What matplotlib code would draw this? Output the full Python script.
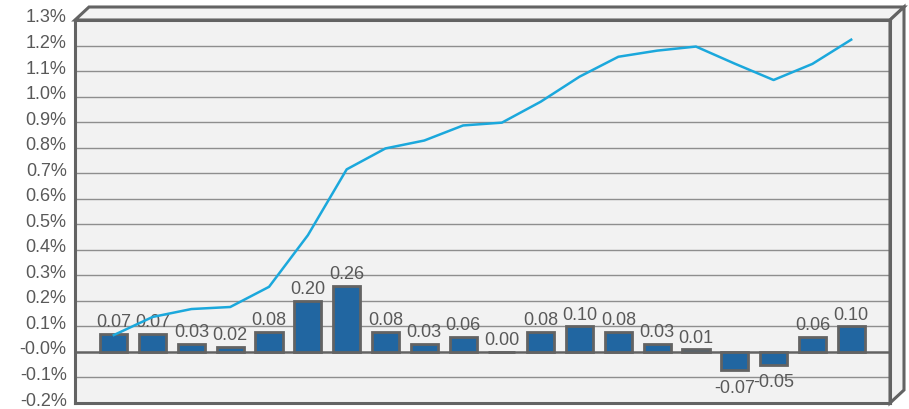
import matplotlib.pyplot as plt
import matplotlib.transforms as mtransforms
from matplotlib.patches import Polygon
import numpy as np

plt.rcParams['font.family'] = ['Liberation Sans', 'DejaVu Sans']

# monthly values (bars) and running total (line), in percent
bar_values = [0.07, 0.07, 0.03, 0.02, 0.08, 0.20, 0.26, 0.08, 0.03, 0.06,
              0.00, 0.08, 0.10, 0.08, 0.03, 0.01, -0.07, -0.05, 0.06, 0.10]
bar_labels = ["0.07", "0.07", "0.03", "0.02", "0.08", "0.20", "0.26", "0.08", "0.03", "0.06",
              "0.00", "0.08", "0.10", "0.08", "0.03", "0.01", "-0.07", "-0.05", "0.06", "0.10"]
line_values = [0.066, 0.137, 0.168, 0.176, 0.255, 0.457, 0.715, 0.797, 0.828, 0.887,
               0.898, 0.98, 1.078, 1.156, 1.18, 1.196, 1.129, 1.065, 1.128, 1.223]
y_ticks = [-0.2, -0.1, 0.0, 0.1, 0.2, 0.3, 0.4, 0.5, 0.6, 0.7, 0.8, 0.9, 1.0, 1.1, 1.2, 1.3]
y_ticklabels = ["-0.2%", "-0.1%", "-0.0%", "0.1%", "0.2%", "0.3%", "0.4%", "0.5%", "0.6%",
                "0.7%", "0.8%", "0.9%", "1.0%", "1.1%", "1.2%", "1.3%"]

W, H = 909, 409
fig = plt.figure(figsize=(W / 100, H / 100), dpi=100)
ax = fig.add_axes([75 / W, 6 / H, 815 / W, 383 / H])
ax.set_facecolor("#f2f2f2")

x = np.arange(len(bar_values))
edge = "#636363"
text_gray = "#595959"

for yt in y_ticks:
    if yt == 0:
        continue
    ax.axhline(yt, color="#8e8e8e", lw=1.0, zorder=1)
ax.axhline(0, color=edge, lw=1.8, zorder=2)

ax.bar(x, bar_values, width=0.7, color="#2166a1", edgecolor=edge, linewidth=2, zorder=3)
ax.plot(x, line_values, color="#1ba8dc", lw=1.8, zorder=5)

for xi, v, lab in zip(x, bar_values, bar_labels):
    if v >= 0:
        ax.annotate(lab, (xi, v), xytext=(0, 2), textcoords="offset points",
                    ha="center", va="bottom", fontsize=13, color=text_gray, zorder=4)
    else:
        ax.annotate(lab, (xi, v), xytext=(0, -7), textcoords="offset points",
                    ha="center", va="top", fontsize=13, color=text_gray, zorder=4)

ax.set_xlim(-1, 20)
ax.set_ylim(-0.2, 1.3)
ax.set_xticks([])
ax.set_yticks(y_ticks)
ax.set_yticklabels(y_ticklabels, fontsize=13, color=text_gray)
ax.tick_params(axis="y", length=0, pad=6)
offset = mtransforms.ScaledTranslation(0, 4 / 100, fig.dpi_scale_trans)
for lbl in ax.get_yticklabels():
    lbl.set_transform(lbl.get_transform() + offset)

for s in ax.spines.values():
    s.set_color(edge)
    s.set_linewidth(2.2)
    s.set_zorder(6)

# 3d box: top and right faces
dx, dy = 14 / 815, 13 / 383
top = Polygon([(0, 1), (dx, 1 + dy), (1 + dx, 1 + dy), (1, 1)], closed=True,
              transform=ax.transAxes, clip_on=False, facecolor="#f2f2f2",
              edgecolor=edge, lw=2.2, zorder=6)
right = Polygon([(1, 1), (1 + dx, 1 + dy), (1 + dx, dy), (1, 0)], closed=True,
                transform=ax.transAxes, clip_on=False, facecolor="#f2f2f2",
                edgecolor=edge, lw=2.2, zorder=6)
ax.add_patch(top)
ax.add_patch(right)

fig.savefig("out.png", dpi=100)
